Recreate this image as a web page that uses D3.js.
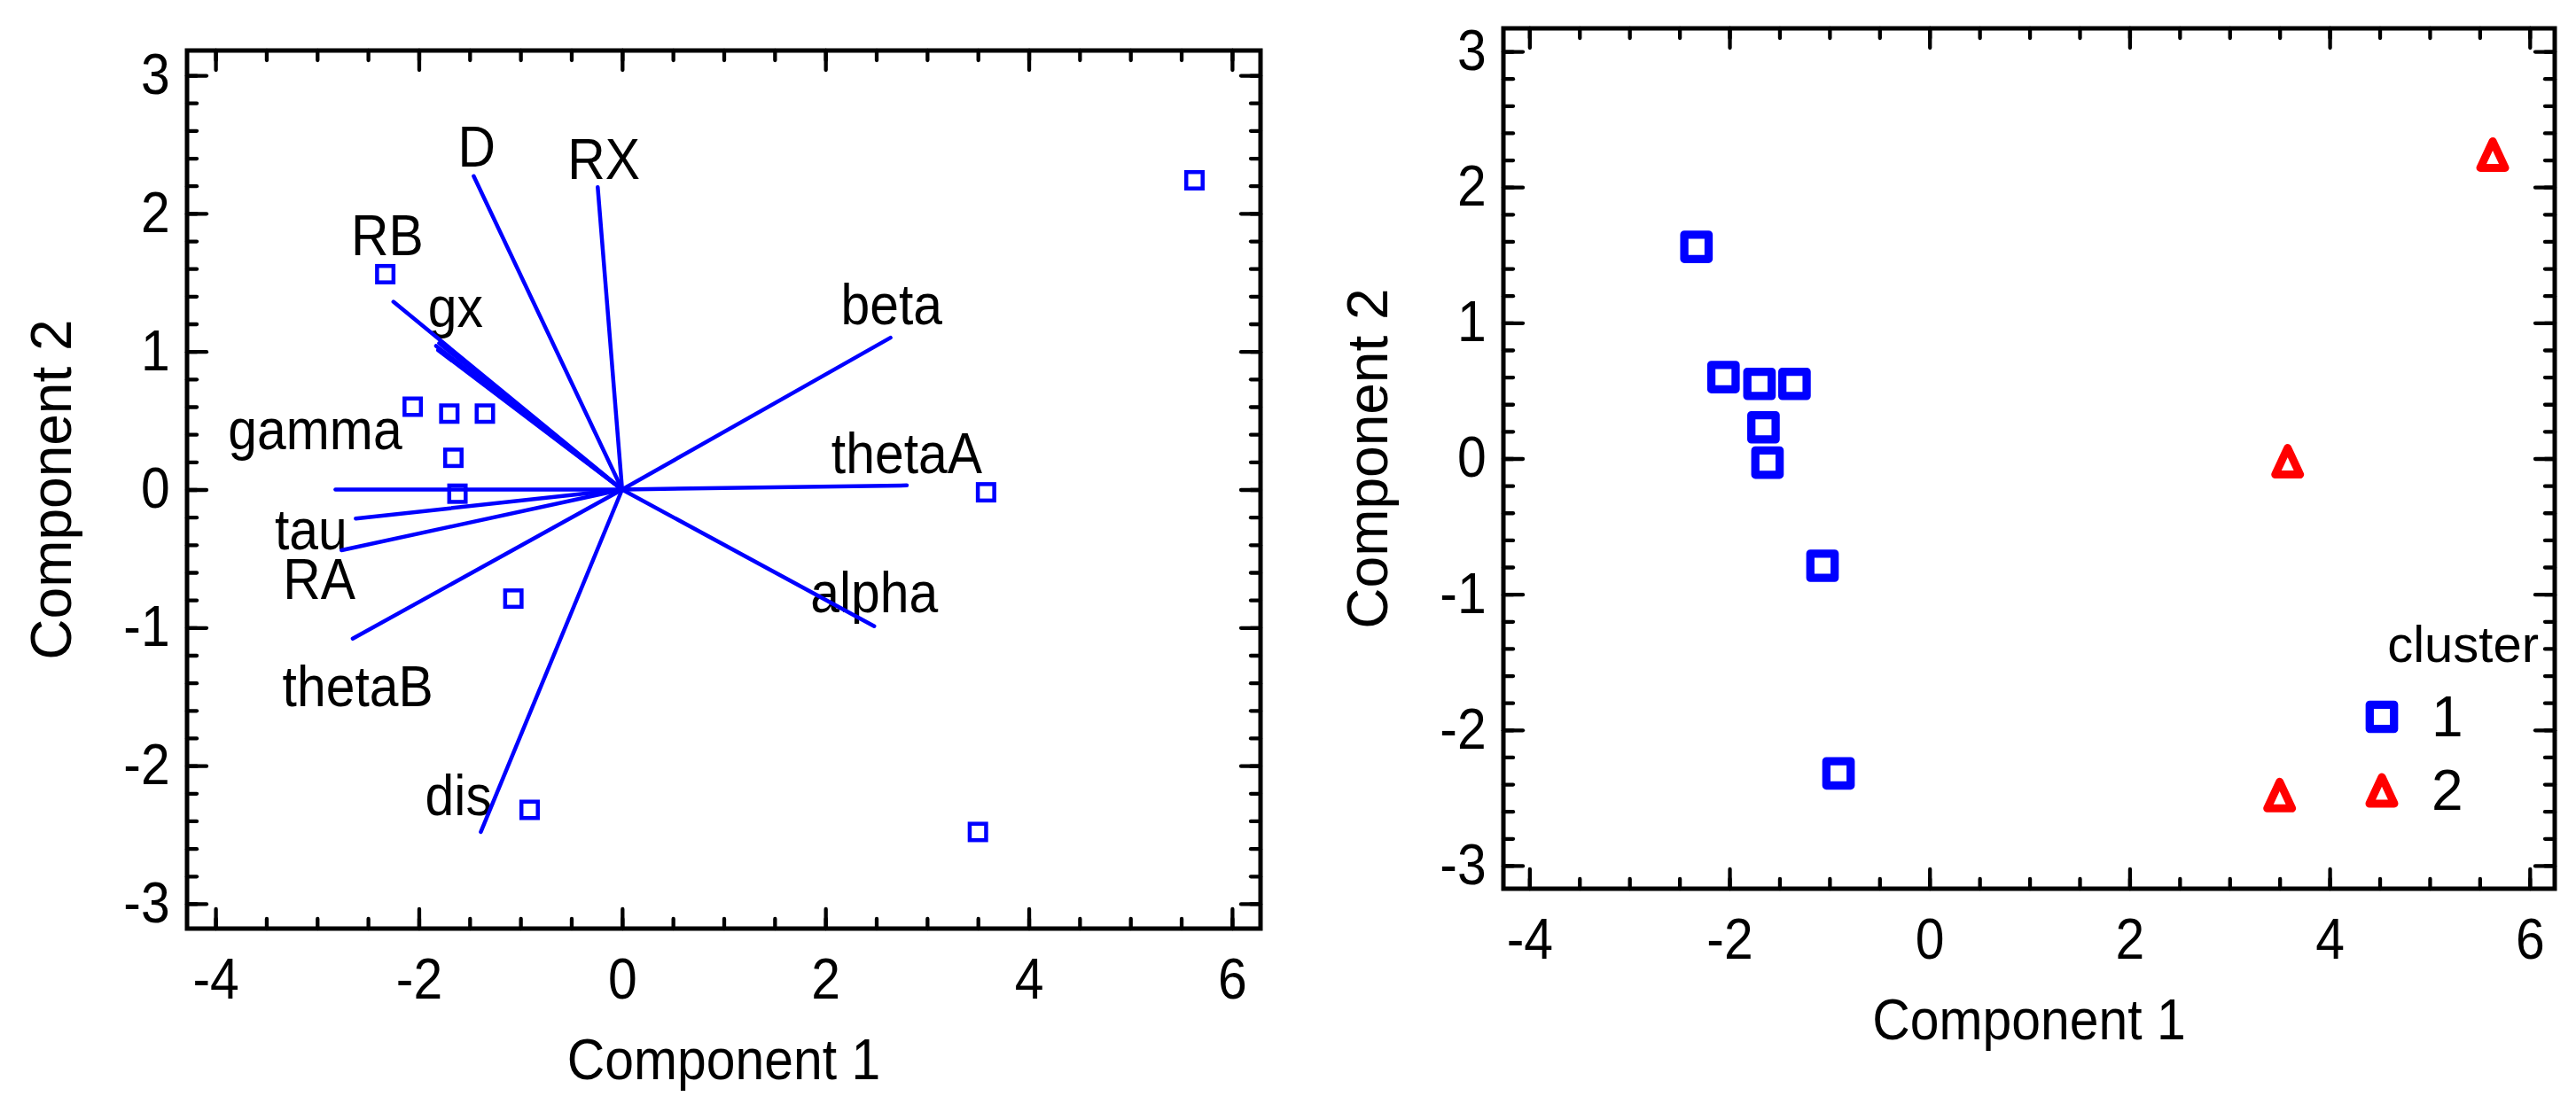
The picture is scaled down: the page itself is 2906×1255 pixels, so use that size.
<!DOCTYPE html>
<html>
<head>
<meta charset="utf-8">
<script src="https://cdn.jsdelivr.net/npm/d3@7"></script>
<style>
  body { margin: 0; background: #fff; }
  svg { display: block; background: #fff; }
  text { font-family: "Liberation Sans", Arial, sans-serif; fill: #000; }
</style>
</head>
<body>
<svg id="chart" width="2906" height="1255"></svg>
<script>
// sample scores on the first two components
const comp1 = [-2.33, -2.06, -1.70, -1.35, -1.66, -1.62, -1.07, -0.91, 5.63, 3.58, 3.50];
const comp2 = [1.56, 0.60, 0.55, 0.55, 0.23, -0.03, -0.79, -2.32, 2.24, -0.02, -2.48];
const cluster = [1, 1, 1, 1, 1, 1, 1, 1, 2, 2, 2];
const clusterNames = ['1', '2'];

// loading vectors (biplot); the gx bundle holds a few near-identical vectors
const loadingNames = ['D', 'RX', 'RB', 'gx', '', '', 'gamma', 'tau', 'RA', 'thetaB', 'dis', 'beta', 'thetaA', 'alpha'];
const loadingX = [-1.46, -0.24, -2.25, -1.83, -1.80, -1.81, -2.82, -2.62, -2.76, -2.65, -1.39, 2.64, 2.80, 2.48];
const loadingY = [2.27, 2.19, 1.36, 1.04, 1.06, 1.01, 0.00, -0.21, -0.44, -1.08, -2.48, 1.10, 0.03, -0.99];
// where each loading name is written (data units, centre / baseline)
const labelX = [-1.43, -0.18, -2.31, -1.64, null, null, -3.02, -3.06, -2.98, -2.60, -1.61, 2.65, 2.80, 2.48];
const labelY = [2.34, 2.25, 1.70, 1.18, null, null, 0.29, -0.43, -0.79, -1.57, -2.36, 1.20, 0.12, -0.89];

const xTicks = [-4, -2, 0, 2, 4, 6];
const yTicks = [-3, -2, -1, 0, 1, 2, 3];
const xMinor = d3.range(-4, 6.01, 0.5);
const yMinor = d3.range(-15, 16).map(d => d / 5);

const blue = '#0000ff';
const red = '#ff0000';
const squeeze = 'scale(0.92,1)';

const svg = d3.select('#chart');

// frame with inward ticks on all four sides, labels on left and bottom
function panel(box, xDomain, yDomain) {
  const x = d3.scaleLinear().domain(xDomain).range([box.left, box.right]);
  const y = d3.scaleLinear().domain(yDomain).range([box.bottom, box.top]);
  const g = svg.append('g');

  const sides = [
    { make: d3.axisBottom, scale: x, at: `translate(0,${box.bottom})`, labels: true },
    { make: d3.axisTop, scale: x, at: `translate(0,${box.top})`, labels: false },
    { make: d3.axisLeft, scale: y, at: `translate(${box.left},0)`, labels: true },
    { make: d3.axisRight, scale: y, at: `translate(${box.right},0)`, labels: false }
  ];

  sides.forEach(s => {
    const isX = s.scale === x;
    const minor = s.make(s.scale)
      .tickValues(isX ? xMinor : yMinor)
      .tickSize(-11).tickSizeOuter(0).tickFormat('');
    const major = s.make(s.scale)
      .tickValues(isX ? xTicks : yTicks)
      .tickSize(-22).tickSizeOuter(0)
      .tickPadding(isX ? 34 : 21)
      .tickFormat(s.labels ? (d => String(d)) : '');

    [minor, major].forEach(ax => {
      const a = g.append('g').attr('transform', s.at).call(ax);
      a.select('.domain').remove();
      a.selectAll('line').attr('stroke', '#000').attr('stroke-width', 4.3).attr('stroke-linecap', 'round');
      a.selectAll('text')
        .attr('font-size', 64)
        .attr('font-family', null)
        .attr('transform', squeeze);
    });
  });

  g.append('rect')
    .attr('x', box.left).attr('y', box.top)
    .attr('width', box.right - box.left).attr('height', box.bottom - box.top)
    .attr('fill', 'none').attr('stroke', '#000').attr('stroke-width', 5);

  // axis titles
  const cx = (box.left + box.right) / 2;
  const cy = (box.top + box.bottom) / 2;
  g.append('text')
    .attr('transform', `translate(${cx},${box.bottom + 170}) ${squeeze}`)
    .attr('text-anchor', 'middle').attr('font-size', 64)
    .text('Component 1');
  g.append('text')
    .attr('transform', `translate(${box.left - 131},${cy}) rotate(-90)`)
    .attr('text-anchor', 'middle').attr('font-size', 64)
    .text('Component 2');

  return { g, x, y };
}

// ---- left: biplot ----
const left = panel({ left: 211, right: 1422, top: 57, bottom: 1048 }, [-4.28, 6.28], [-3.18, 3.18]);

left.g.append('g').selectAll('text')
  .data(loadingNames.map((n, i) => i).filter(i => loadingNames[i] !== ''))
  .join('text')
    .attr('transform', i => `translate(${left.x(labelX[i])},${left.y(labelY[i])}) ${squeeze}`)
    .attr('text-anchor', 'middle')
    .attr('font-size', 64)
    .text(i => loadingNames[i]);

left.g.append('g').selectAll('line')
  .data(loadingX)
  .join('line')
    .attr('x1', left.x(0)).attr('y1', left.y(0))
    .attr('x2', (d, i) => left.x(loadingX[i]))
    .attr('y2', (d, i) => left.y(loadingY[i]))
    .attr('stroke', blue).attr('stroke-width', 4.5).attr('stroke-linecap', 'round');

const s1 = 18.5;
left.g.append('g').selectAll('rect')
  .data(comp1)
  .join('rect')
    .attr('x', (d, i) => left.x(comp1[i]) - s1 / 2)
    .attr('y', (d, i) => left.y(comp2[i]) - s1 / 2)
    .attr('width', s1).attr('height', s1)
    .attr('fill', 'none').attr('stroke', blue).attr('stroke-width', 4.5);

// ---- right: scores coloured by cluster ----
const right = panel({ left: 1696, right: 2882, top: 32, bottom: 1003 }, [-4.26, 6.25], [-3.17, 3.17]);

const s2 = 27.4;
const tri = 'M0,-15L14,15L-14,15Z';

function marker(sel, c) {
  if (c === 1) {
    sel.append('rect')
      .attr('x', -s2 / 2).attr('y', -s2 / 2).attr('width', s2).attr('height', s2)
      .attr('fill', 'none').attr('stroke', blue).attr('stroke-width', 9.3)
      .attr('stroke-linejoin', 'round');
  } else {
    sel.append('path')
      .attr('d', tri)
      .attr('fill', 'none').attr('stroke', red).attr('stroke-width', 9)
      .attr('stroke-linejoin', 'round');
  }
}

right.g.append('g').selectAll('g')
  .data(comp1)
  .join('g')
    .attr('transform', (d, i) => `translate(${right.x(comp1[i])},${right.y(comp2[i])})`)
    .each(function(d, i) { marker(d3.select(this), cluster[i]); });

// legend
const legend = right.g.append('g');
legend.append('text')
  .attr('x', 2864).attr('y', 747)
  .attr('text-anchor', 'end').attr('font-size', 58)
  .text('cluster');

clusterNames.forEach((name, i) => {
  const row = legend.append('g').attr('transform', `translate(2687,${809 + i * 83})`);
  marker(row, i + 1);
  row.append('text')
    .attr('x', 56).attr('y', 22)
    .attr('font-size', 64)
    .text(name);
});
</script>
</body>
</html>
